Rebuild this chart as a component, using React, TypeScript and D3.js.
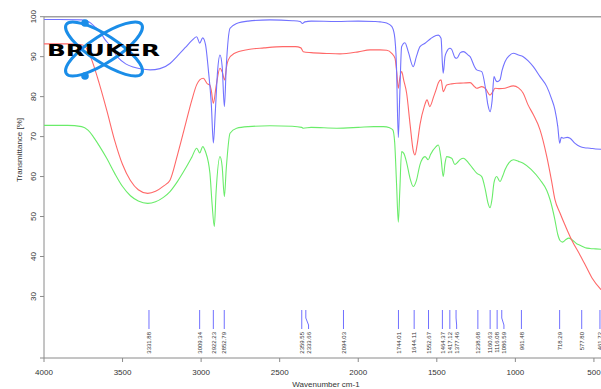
import React from "react";
import * as d3 from "d3";

const xTicks = [4000, 3500, 3000, 2500, 2000, 1500, 1000, 500];
const yTicks = [30, 40, 50, 60, 70, 80, 90, 100];

const blueSeries: [number, number][] = [
  [4000, 99.3], [3900, 99.3], [3760, 99.2], [3710, 98.6], [3680, 97.6], [3644, 96.2], [3610, 94.2], [3580, 92.8],
  [3530, 89.8], [3480, 88.2], [3433, 87.4], [3380, 86.9], [3325, 86.7], [3262, 87.0], [3198, 88.3], [3150, 90.2],
  [3100, 92.3], [3060, 94.0], [3028, 95.0], [3009, 93.4], [2990, 94.7], [2972, 93.0], [2954, 86.7], [2935, 78.0],
  [2922, 68.4], [2910, 76.0], [2895, 86.5], [2880, 90.4], [2866, 87.5], [2852, 77.5], [2840, 87.5], [2816, 97.1],
  [2774, 98.3], [2700, 98.9], [2562, 99.2], [2420, 99.0], [2370, 98.8], [2355, 98.3], [2340, 98.7], [2300, 98.9],
  [2137, 98.8], [2000, 98.9], [1900, 98.8], [1861, 98.7], [1819, 98.4], [1787, 97.6], [1770, 95.5], [1757, 88.0],
  [1745, 69.8], [1736, 80.0], [1724, 92.5], [1703, 93.5], [1680, 91.0], [1650, 87.5], [1630, 90.0], [1607, 92.5],
  [1575, 93.35], [1540, 94.5], [1505, 95.3], [1490, 95.4], [1473, 94.6], [1464, 88.0], [1459, 85.85], [1448, 90.0],
  [1437, 91.25], [1417, 92.1], [1405, 91.8], [1385, 89.8], [1373, 89.6], [1350, 91.0], [1331, 91.25], [1300, 90.4],
  [1288, 90.0], [1260, 87.5], [1246, 86.7], [1214, 86.25], [1190, 82.0], [1175, 78.0], [1161, 76.25], [1148, 79.0],
  [1136, 85.0], [1124, 84.0], [1116, 83.75], [1098, 84.2], [1085, 86.5], [1066, 88.75], [1040, 90.2], [1013, 90.85],
  [980, 90.4], [950, 90.0], [920, 89.0], [886, 87.5], [843, 85.0], [800, 82.5], [770, 79.5], [748, 76.7],
  [730, 72.5], [718, 68.35], [708, 69.8], [695, 69.6], [670, 69.8], [652, 69.6], [620, 68.3], [589, 67.5],
  [560, 67.2], [525, 67.1], [490, 66.9], [455, 66.85],
];

const redSeries: [number, number][] = [
  [4000, 93.2], [3850, 93.2], [3760, 93.0], [3720, 91.5], [3690, 88.5], [3650, 83.5], [3600, 76.5], [3550, 69.0],
  [3500, 63.0], [3450, 59.0], [3400, 56.7], [3340, 55.8], [3290, 56.3], [3240, 57.6], [3198, 59.1], [3150, 65.5],
  [3100, 73.0], [3060, 79.0], [3028, 83.0], [3009, 84.2], [2986, 84.6], [2960, 83.2], [2944, 82.9], [2935, 81.5],
  [2922, 78.35], [2905, 82.5], [2880, 87.1], [2866, 86.2], [2850, 84.2], [2838, 87.5], [2827, 89.2], [2790, 90.8],
  [2700, 91.8], [2600, 92.2], [2480, 92.5], [2400, 92.5], [2365, 92.2], [2350, 91.25], [2300, 91.0], [2200, 90.8],
  [2116, 90.7], [2000, 91.2], [1925, 91.7], [1861, 91.7], [1819, 91.6], [1787, 90.85], [1766, 89.6], [1755, 86.0],
  [1745, 82.1], [1736, 84.5], [1724, 86.25], [1710, 84.0], [1692, 80.85], [1670, 73.0], [1650, 66.5], [1639, 65.4],
  [1625, 68.0], [1607, 73.0], [1580, 77.5], [1562, 79.2], [1545, 77.5], [1520, 80.0], [1505, 81.7], [1490, 83.5],
  [1473, 84.2], [1459, 81.25], [1437, 82.9], [1405, 83.2], [1373, 83.35], [1331, 83.4], [1288, 83.5], [1260, 82.5],
  [1246, 82.1], [1214, 82.5], [1190, 82.0], [1161, 80.4], [1140, 81.5], [1130, 82.1], [1100, 82.0], [1066, 82.1],
  [1013, 82.7], [980, 82.2], [950, 80.85], [920, 78.0], [886, 75.5], [843, 71.7], [800, 65.0], [770, 59.0],
  [748, 54.2], [716, 50.9], [680, 47.5], [640, 44.0], [589, 40.4], [550, 37.5], [510, 34.5], [455, 31.7],
];

const greenSeries: [number, number][] = [
  [4000, 72.8], [3850, 72.8], [3760, 72.5], [3720, 71.6], [3690, 70.2], [3650, 67.8], [3600, 64.5], [3550, 60.8],
  [3500, 57.5], [3450, 55.2], [3400, 53.9], [3340, 53.3], [3290, 53.7], [3240, 54.8], [3198, 56.25], [3150, 58.8],
  [3100, 62.0], [3060, 64.8], [3028, 67.1], [3009, 65.9], [2990, 67.5], [2972, 66.2], [2944, 60.85], [2930, 53.0],
  [2916, 47.5], [2905, 56.0], [2880, 65.0], [2866, 62.5], [2852, 55.0], [2840, 62.0], [2816, 70.85], [2774, 72.1],
  [2700, 72.5], [2562, 72.7], [2420, 72.6], [2360, 72.3], [2350, 72.1], [2300, 72.3], [2137, 72.1], [2000, 72.3],
  [1900, 72.5], [1840, 72.5], [1800, 72.2], [1780, 71.7], [1768, 68.5], [1756, 58.0], [1745, 48.6], [1736, 56.0],
  [1724, 66.25], [1710, 65.8], [1692, 63.5], [1670, 59.5], [1650, 57.5], [1630, 59.0], [1607, 63.0], [1575, 65.0],
  [1555, 64.2], [1540, 65.5], [1505, 67.5], [1490, 67.9], [1473, 64.5], [1459, 60.0], [1447, 63.5], [1437, 65.0],
  [1405, 64.6], [1385, 63.0], [1373, 63.35], [1350, 64.3], [1331, 64.6], [1300, 63.5], [1270, 62.0], [1246, 60.85],
  [1214, 60.0], [1190, 56.5], [1175, 53.5], [1161, 52.2], [1148, 54.5], [1136, 58.5], [1119, 60.0], [1098, 58.75],
  [1080, 60.2], [1066, 61.7], [1040, 63.5], [1013, 64.2], [980, 63.8], [950, 63.35], [900, 61.8], [843, 59.2],
  [800, 56.5], [779, 54.2], [750, 49.5], [730, 45.5], [716, 44.0], [700, 43.6], [680, 44.2], [660, 44.6],
  [640, 44.2], [610, 43.2], [589, 42.8], [555, 42.2], [525, 42.0], [490, 41.9], [455, 41.8],
];

const peakWavenumbers = [
  3331.88, 3009.34, 2922.23, 2852.79, 2359.55, 2333.66, 2094.03, 1744.01, 1644.11, 1552.67, 1464.37,
  1417.12, 1377.46, 1238.68, 1160.63, 1116.08, 1086.59, 961.48, 718.29, 577.8, 461.72,
];
const peakLabels = [
  "3331.88", "3009.34", "2922.23", "2852.79", "2359.55", "2333.66", "2094.03", "1744.01", "1644.11", "1552.67", "1464.37",
  "1417.12", "1377.46", "1238.68", "1160.63", "1116.08", "1086.59", "961.48", "718.29", "577.80", "461.72",
];

const seriesList = [
  { data: greenSeries, color: "#6aec6a" },
  { data: redSeries, color: "#ff6868" },
  { data: blueSeries, color: "#7272ff" },
];

export default function App() {
  const W = 601;
  const H = 389;
  const left = 44;
  const right = 601;
  const top = 16.7;
  const bottom = 358;

  const x = d3.scaleLinear().domain([4000, 455]).range([left, right]);
  const y = d3.scaleLinear().domain([14.6, 100]).range([bottom, top]);

  const line = d3
    .line<[number, number]>()
    .x((d) => x(d[0]))
    .y((d) => y(d[1]))
    .curve(d3.curveMonotoneX);

  const peakX = peakWavenumbers.map((w) => x(w));
  const labelX: number[] = [];
  const minGap = 6.8;
  peakX.forEach((px, i) => {
    if (i === 0) labelX.push(px);
    else labelX.push(Math.max(px, labelX[i - 1] + minGap));
  });

  const textColor = "#333";
  const axisColor = "#8a8a8a";

  return (
    <svg
      width={W}
      height={H}
      style={{ position: "absolute", left: 0, top: 0, background: "#fff" }}
      fontFamily="Liberation Sans, Arial, sans-serif"
    >
      <defs>
        <clipPath id="plotClip">
          <rect x={left} y={top} width={right - left} height={bottom - top} />
        </clipPath>
      </defs>

      <line x1={left} x2={right} y1={top} y2={top} stroke="#a0a0a0" strokeWidth={1.4} />
      <line x1={left} x2={left} y1={top} y2={bottom} stroke={axisColor} strokeWidth={1} />
      <line x1={left} x2={right} y1={bottom} y2={bottom} stroke={axisColor} strokeWidth={1} />

      {yTicks.map((t) => (
        <g key={"y" + t}>
          <line x1={left - 4} x2={left} y1={y(t)} y2={y(t)} stroke={axisColor} />
          <text
            transform={`translate(36,${y(t)}) rotate(-90)`}
            textAnchor="middle"
            fontSize={8}
            fill={textColor}
          >
            {t}
          </text>
        </g>
      ))}
      <line x1={left - 4} x2={left} y1={bottom} y2={bottom} stroke={axisColor} />

      {xTicks.map((t) => (
        <g key={"x" + t}>
          <line x1={x(t)} x2={x(t)} y1={bottom} y2={bottom + 4} stroke={axisColor} />
          <text x={x(t)} y={375} textAnchor="middle" fontSize={8} fill={textColor}>
            {t}
          </text>
        </g>
      ))}

      <text x={326} y={387} textAnchor="middle" fontSize={8} fill={textColor}>
        Wavenumber cm-1
      </text>
      <text transform="translate(22,150) rotate(-90)" textAnchor="middle" fontSize={8} fill={textColor}>
        Transmittance [%]
      </text>

      <g clipPath="url(#plotClip)">
        {seriesList.map((s, i) => (
          <path key={i} d={line(s.data) || ""} fill="none" stroke={s.color} strokeWidth={1.1} />
        ))}
      </g>

      {peakWavenumbers.map((w, i) => {
        const px = peakX[i];
        const lx = labelX[i];
        const pts =
          Math.abs(lx - px) < 0.5
            ? `${px},310 ${px},329`
            : `${px},310 ${px},318 ${lx},325 ${lx},329`;
        return (
          <g key={"p" + i}>
            <polyline points={pts} fill="none" stroke="#7070ff" strokeWidth={1} />
            <text
              transform={`translate(${lx + 2.2},332) rotate(-90)`}
              textAnchor="end"
              fontSize={6}
              fill={textColor}
            >
              {peakLabels[i]}
            </text>
          </g>
        );
      })}

      <g>
        <ellipse cx={104} cy={49} rx={45} ry={13.5} fill="none" stroke="#1a8de8" strokeWidth={3} transform="rotate(33,104,49)" />
        <ellipse cx={104} cy={49} rx={45} ry={13.5} fill="none" stroke="#1a8de8" strokeWidth={3} transform="rotate(-33,104,49)" />
        <circle cx={85} cy={23} r={3.8} fill="#1a8de8" />
        <circle cx={85} cy={76} r={3.8} fill="#1a8de8" />
        <text
          x={47}
          y={55.5}
          fontSize={16.5}
          fontWeight={900}
          fontFamily="DejaVu Sans, Arial, sans-serif"
          fill="#000"
          textLength={113}
          lengthAdjust="spacingAndGlyphs"
        >
          BRUKER
        </text>
      </g>
    </svg>
  );
}
